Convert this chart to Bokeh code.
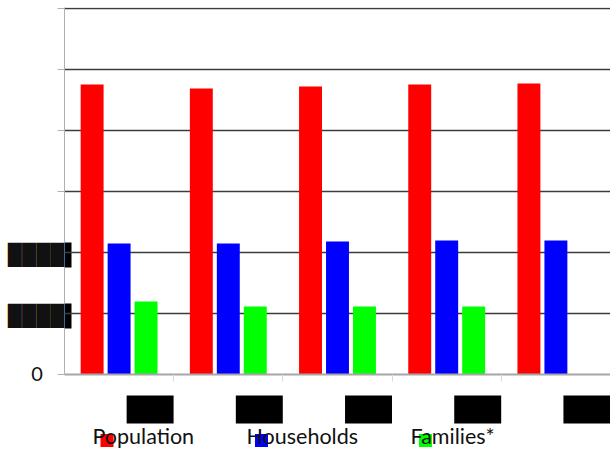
import numpy as np
from bokeh.plotting import figure
from bokeh.layouts import column
from bokeh.models import ColumnDataSource, Range1d, FixedTicker
from bokeh.transform import dodge
from bokeh.core.properties import value
from bokeh.embed import file_html
from bokeh.resources import INLINE

# ---- data -------------------------------------------------------------
years = ["2015", "2016", "2017", "2018", "2019"]
population = [47540, 46890, 47210, 47540, 47700]
households = [21480, 21480, 21800, 21970, 21970]
families = [11970, 11150, 11150, 11150, float("nan")]

series_names = ["Population", "Households", "Families*"]
series_colors = ["#ff0000", "#0000ff", "#00ff00"]

y_ticks = [0, 10000, 20000, 30000, 40000, 50000, 60000]
redacted_ticks = [10000, 20000]
y_max = 60000

FONT = "Lato"
REDACTED = "\u2588" * 4          # blacked-out tick label

# each year occupies one unit slot on a numeric x axis
slot = np.arange(len(years)) + 0.5
src = ColumnDataSource(dict(x=slot, year=years, population=population,
                            households=households, families=families))

# ---- main chart -------------------------------------------------------
p = figure(width=610, height=384,
           x_range=Range1d(0, len(years)), y_range=Range1d(0, y_max + 164),
           output_backend="svg", toolbar_location=None,
           min_border_left=64, min_border_right=0,
           min_border_top=7, min_border_bottom=10)
p.outline_line_color = None

# the blacked-out labels run a few pixels into the plot area
unit_x = len(years) / 546.0   # x data units per pixel
unit_y = (y_max + 164) / 367.0
p.quad(left=0, right=7 * unit_x,
       bottom=[t - 15 * unit_y for t in redacted_ticks],
       top=[t + 10 * unit_y for t in redacted_ticks],
       fill_color="black", line_color=None, level="underlay")

bar_w = 0.21
off = 0.247
for col, shift, color in zip(["population", "households", "families"],
                             [-off, 0.0, off], series_colors):
    p.vbar(x=dodge("x", shift), top=col, width=bar_w, source=src,
           fill_color=color, line_color=None)

labels = {t: "" for t in y_ticks}
labels[0] = "0\u2007\u2002"
for t in redacted_ticks:
    labels[t] = REDACTED
p.yaxis.ticker = FixedTicker(ticks=y_ticks, minor_ticks=[])
p.yaxis.major_label_overrides = labels
p.yaxis.major_label_standoff = -7
p.yaxis.major_label_text_font = FONT
p.yaxis.major_label_text_font_size = "20px"
p.yaxis.major_label_text_color = "#111111"
p.yaxis.axis_line_color = "#b0b0b0"
p.yaxis.major_tick_line_color = "#b0b0b0"
p.yaxis.major_tick_out = 7
p.yaxis.major_tick_in = 0

p.ygrid.ticker = FixedTicker(ticks=y_ticks)
p.ygrid.grid_line_color = "#3c3c3c"
p.ygrid.grid_line_width = 1.5
p.xgrid.visible = False

# boundary ticks between the year groups
p.xaxis.ticker = FixedTicker(ticks=[], minor_ticks=list(range(1, len(years))))
p.xaxis.axis_line_color = "#a6a6a6"
p.xaxis.axis_line_width = 2
p.xaxis.major_tick_out = 0
p.xaxis.major_tick_in = 0
p.xaxis.minor_tick_out = 7
p.xaxis.minor_tick_in = 0
p.xaxis.minor_tick_line_color = "#d9d9d9"
p.xaxis.major_label_standoff = 0

# ---- strip below: year labels (blacked out) and legend ----------------
q = figure(width=610, height=70, x_range=p.x_range, y_range=Range1d(0, 70),
           output_backend="svg", toolbar_location=None,
           x_axis_location=None, y_axis_location=None,
           min_border_left=64, min_border_right=0,
           min_border_top=0, min_border_bottom=0)
q.outline_line_color = None
q.grid.visible = False
q.extra_x_ranges = {"px": Range1d(64, 610)}

lab_off = 0.284     # label centre, right of the slot centre
lab_w = 0.43
q.quad(left=dodge("x", lab_off - lab_w / 2), right=dodge("x", lab_off + lab_w / 2),
       bottom=31, top=59, source=src, fill_color="black", line_color=None)
q.text(x=dodge("x", lab_off), y=45, text="year", source=src,
       text_font=value(FONT), text_font_size="18px", text_color="black",
       text_align="center", text_baseline="middle")

legend_src = ColumnDataSource(dict(
    name=series_names, color=series_colors,
    text_x=[92, 246, 410], swatch_x=[106.5, 261, 425]))
q.rect(x="swatch_x", y=14, width=13, height=13, source=legend_src,
       fill_color="color", line_color=None, x_range_name="px")
q.text(x="text_x", y=19, text="name", source=legend_src, x_range_name="px",
       text_font=value(FONT), text_font_size="21.5px", text_color="#111111",
       text_align="left", text_baseline="middle")

open("out.html", "w").write(file_html(column(p, q, spacing=0), INLINE))
